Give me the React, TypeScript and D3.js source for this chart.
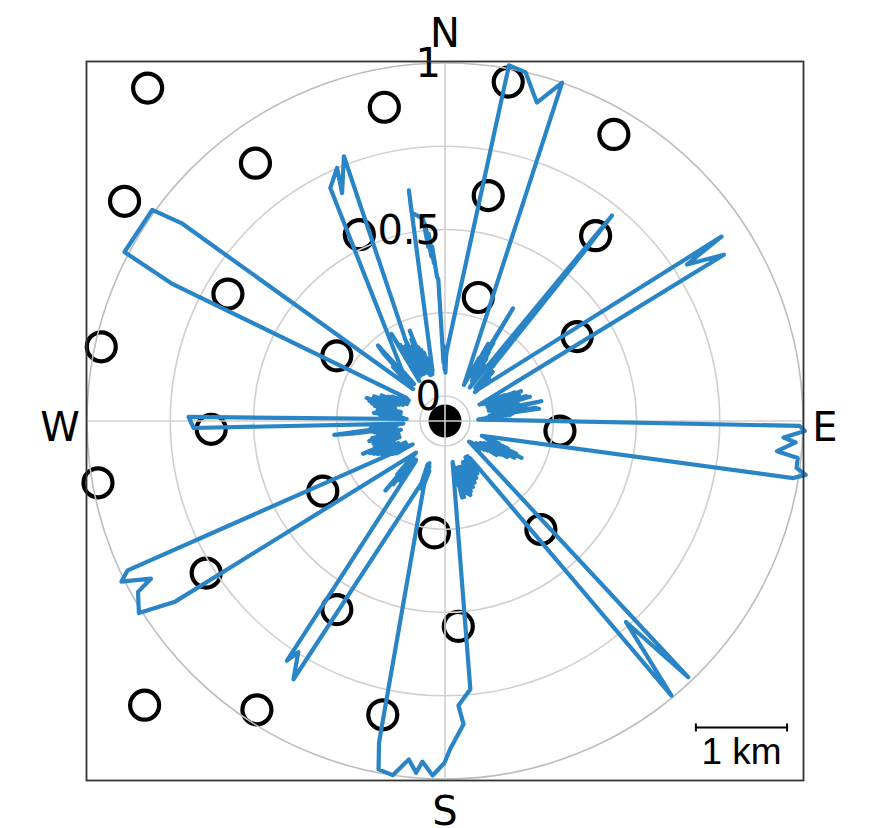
import React from 'react';
import * as d3 from 'd3';

const W = 870;
const H = 828;
const CX = 445;
const CY = 421;
const HOLE = 25;
const OUTER = 358;

const gridValues = [0, 0.25, 0.5, 0.75, 1];
const radialLabels = [0, 0.5, 1];
const compassLabels = ['N', 'E', 'S', 'W'];
const compassAngles = [0, 90, 180, 270];

// station markers in km (east, north) relative to centre
const stationX = [-3.26, -0.665, 0.693, 1.851, -2.078, -3.513, 0.474, -0.939, 1.651, -2.38, 0.365, -3.768, -1.186, 1.449, -2.563, 1.26, -3.804, -1.34, -0.117, 1.051, -2.618, -1.186, 0.146, -3.293, -2.062, -0.682];
const stationY = [3.64, 3.43, 3.705, 3.133, 2.818, 2.402, 2.464, 2.037, 2.026, 1.388, 1.35, 0.811, 0.712, 0.923, -0.091, -0.11, -0.676, -0.767, -1.223, -1.186, -1.662, -2.062, -2.245, -3.107, -3.157, -3.212];

const kmExtent = 3.93;
const scaleBarKm = [2.75, 3.75];
const scaleBarY = -3.35;

// polar profile: [bearing in degrees (clockwise from N), normalised value]
const profile: [number, number][] = [
  [1.5, 0.136],
  [10.2, 1.01], [13.0, 1.0], [16.1, 0.92], [19.1, 1.0],
  [27.8, 0.047],
  [28.5, 0.14], [28.9, 0.08], [29.2, 0.19], [29.6, 0.1], [30, 0.16], [30.4, 0.08], [31.1, 0.32], [31.5, 0.12], [31.8, 0.2], [32.2, 0.09], [32.5, 0.17], [33, 0.1], [33.5, 0.15], [34, 0.07], [34.5, 0.13], [35, 0.08], [35.5, 0.1],
  [36.5, 0.05], [39.1, 0.72], [39.4, 0.6], [42.5, 0.06],
  [43, 0.1], [43.6, 0.06], [44.2, 0.13], [44.8, 0.07], [45.4, 0.11], [46, 0.05],
  [46.4, 0.063], [56.3, 0.923], [57.1, 0.79], [59.2, 0.9], [64.5, 0.04],
  [65.5, 0.09], [66, 0.05], [66.5, 0.12], [67, 0.06], [67.6, 0.15], [68.1, 0.07], [68.6, 0.17], [69.1, 0.08], [69.7, 0.13], [70.2, 0.06], [70.8, 0.16], [71.3, 0.09], [71.9, 0.14], [72.4, 0.06], [73, 0.18], [73.5, 0.1], [74, 0.19], [74.5, 0.08], [75.1, 0.14], [75.6, 0.07], [76.2, 0.15], [76.7, 0.06], [77.3, 0.12], [77.8, 0.08], [78.4, 0.22], [78.9, 0.1], [79.5, 0.17], [80, 0.07], [80.6, 0.15], [81.1, 0.09], [81.7, 0.2], [82.2, 0.11], [82.6, 0.21], [83.1, 0.06], [83.7, 0.13], [84.2, 0.06], [84.8, 0.12], [85.3, 0.05], [85.9, 0.09], [86.5, 0.04],
  [87.5, 0.025], [90.8, 0.99], [91.6, 1.006], [92.8, 0.943], [93.5, 0.98], [95.2, 0.926], [96, 0.99], [97.6, 0.99], [98.5, 1.02], [99.3, 0.985], [112, 0.044],
  [112.6, 0.1], [113.1, 0.06], [113.6, 0.13], [114.1, 0.07], [114.7, 0.16], [115.2, 0.09], [115.7, 0.18], [116.2, 0.08], [116.8, 0.15], [117.3, 0.07], [117.9, 0.16], [118.4, 0.09], [119, 0.12], [119.5, 0.06], [120.1, 0.14], [120.6, 0.07], [121.2, 0.12], [121.7, 0.05], [122.3, 0.1], [122.9, 0.05], [123.5, 0.11], [124.1, 0.05], [124.8, 0.08], [125.5, 0.04], [126.3, 0.07], [127.2, 0.04], [128.2, 0.06], [129, 0.03],
  [130.6, 0.02], [136.5, 0.986], [138, 0.737], [140.5, 0.994], [144.5, 0.097],
  [146, 0.06], [146.8, 0.09], [147.5, 0.05], [148.3, 0.11], [149, 0.06], [149.8, 0.1], [150.5, 0.05], [151.3, 0.12], [152, 0.06], [152.8, 0.1], [153.5, 0.06], [154.3, 0.13], [155, 0.07], [155.7, 0.12], [156.4, 0.06], [157.1, 0.14], [157.8, 0.08], [158.5, 0.13], [159.2, 0.07], [159.9, 0.15], [160.5, 0.09], [161.1, 0.16], [161.7, 0.08], [162.3, 0.155], [162.9, 0.07], [163.5, 0.14], [164.1, 0.07], [164.7, 0.15], [165.3, 0.08], [166, 0.16], [166.7, 0.07], [167.4, 0.16], [168.1, 0.08], [168.8, 0.12], [169.5, 0.05],
  [174.6, 0.734], [177.3, 0.78], [176.5, 0.837], [179.1, 0.91], [180.1, 0.952], [182, 0.99], [183.8, 0.95], [184.7, 0.985], [186.1, 0.947], [188.4, 1.0], [190.8, 0.99], [191.6, 0.91], [201.8, 0.065],
  [200.8, 0.12], [200.2, 0.06], [199.5, 0.14], [198.8, 0.07], [198.2, 0.12],
  [197.4, 0.083], [210.4, 0.824], [212.4, 0.747], [213.4, 0.787], [216, 0.074],
  [216.7, 0.12], [217.3, 0.07], [218, 0.15], [218.6, 0.08], [219.3, 0.17], [219.9, 0.09], [220.6, 0.2], [221.2, 0.08], [221.8, 0.14],
  [222.5, 0.054], [236.2, 0.9], [237.9, 1.01], [240.9, 0.98], [241.8, 0.927], [243.6, 1.01], [244.8, 0.978], [234.2, 0.045],
  [235.5, 0.07], [236.3, 0.1], [237, 0.06], [237.8, 0.11], [238.5, 0.06], [239.3, 0.13], [240, 0.07], [240.8, 0.12], [241.5, 0.06], [242.3, 0.14], [243, 0.08], [243.8, 0.15], [244.5, 0.08], [245.3, 0.16], [246, 0.09], [246.8, 0.17], [247.5, 0.1], [248.2, 0.19], [248.9, 0.09], [249.6, 0.15], [250.3, 0.07], [251, 0.14], [251.7, 0.08], [252.4, 0.15], [253.1, 0.07], [253.8, 0.13], [254.5, 0.07], [255.2, 0.16], [255.9, 0.08], [256.6, 0.15], [257.3, 0.07], [258, 0.13], [258.7, 0.06], [259.4, 0.12], [260.1, 0.07], [260.8, 0.14], [261.5, 0.08], [262.2, 0.2], [262.9, 0.26], [263.5, 0.1], [264.2, 0.15], [264.9, 0.07], [265.6, 0.13], [266.5, 0.05],
  [268.4, 0.68], [270.9, 0.695], [273, 0.04],
  [273.7, 0.09], [274.4, 0.05], [275.1, 0.12], [275.8, 0.06], [276.5, 0.14], [277.2, 0.07], [277.9, 0.12], [278.6, 0.06], [279.3, 0.13], [280, 0.07], [280.7, 0.12], [281.4, 0.06], [282.1, 0.14], [282.8, 0.08], [283.5, 0.15], [284.2, 0.08], [284.9, 0.16], [285.6, 0.09], [286.3, 0.17], [287, 0.08], [287.7, 0.15], [288.4, 0.08], [289.1, 0.15], [289.8, 0.07], [290.5, 0.13], [291.2, 0.06], [291.9, 0.13], [292.6, 0.06], [293.3, 0.11], [294, 0.05], [294.8, 0.1], [295.6, 0.05], [296.5, 0.08], [297.5, 0.05], [298.5, 0.08], [299.6, 0.05],
  [300.9, 0.062], [296.7, 0.845], [297.8, 1.013], [305.8, 1.009], [306.9, 0.915], [315, 0.061],
  [316.2, 0.15], [317, 0.08], [317.7, 0.2], [318.4, 0.228], [319, 0.1], [319.6, 0.14], [320.2, 0.07],
  [316, 0.093], [333.8, 0.705], [336.9, 0.751], [335.7, 0.676], [339.1, 0.776], [327.3, 0.068],
  [328.4, 0.232], [328.9, 0.1], [329.5, 0.19], [330, 0.08], [330.5, 0.18], [331, 0.09], [331.6, 0.16], [332.2, 0.08], [332.8, 0.18], [333.4, 0.09], [334, 0.2], [334.6, 0.1], [335.2, 0.17], [335.8, 0.08], [336.4, 0.16], [337, 0.09], [337.6, 0.19], [338.2, 0.1], [338.7, 0.216], [339.3, 0.08], [340, 0.16], [340.7, 0.08], [341.4, 0.15], [342.1, 0.07], [342.8, 0.14], [343.5, 0.07], [344.2, 0.12], [344.9, 0.07], [345.5, 0.1],
  [346, 0.08], [351.1, 0.626], [350.9, 0.56], [353.8, 0.535], [354.5, 0.45], [354.2, 0.52], [355.3, 0.42], [355, 0.49], [356, 0.4], [355.8, 0.45], [356.8, 0.36], [357.3, 0.35], [358.5, 0.1],
  [359, 0.15], [359.5, 0.08], [0, 0.14], [0.5, 0.07], [1, 0.12],
];

export default function App() {
  const r = d3.scaleLinear().domain([0, 1]).range([HOLE, OUTER]);
  const kx = d3.scaleLinear().domain([-kmExtent, kmExtent]).range([CX - 358.5, CX + 358.5]);
  const ky = d3.scaleLinear().domain([-kmExtent, kmExtent]).range([CY + 359.5, CY - 359.5]);

  const line = d3
    .lineRadial<[number, number]>()
    .angle((d) => (d[0] * Math.PI) / 180)
    .radius((d) => r(d[1]))
    .curve(d3.curveLinearClosed);

  const labelOffset: Record<string, [number, number]> = {
    N: [0, -388],
    E: [380, 6],
    S: [0, 390],
    W: [-385, 6],
  };

  const sbx0 = kx(scaleBarKm[0]);
  const sbx1 = kx(scaleBarKm[1]);
  const sby = ky(scaleBarY);

  return (
    <svg
      width={W}
      height={H}
      style={{ position: 'absolute', left: 0, top: 0, background: '#fff' }}
      fontFamily="DejaVu Sans"
    >
      <rect x={0} y={0} width={W} height={H} fill="#fff" />
      {/* map layer */}
      <g>
        {stationX.map((x, i) => (
          <circle key={i} cx={kx(x)} cy={ky(stationY[i])} r={14.5} fill="none" stroke="#000" strokeWidth={4.2} />
        ))}
        <circle cx={kx(0)} cy={ky(0)} r={16.5} fill="#000" />
      </g>
      {/* polar grid */}
      <g transform={`translate(${CX},${CY})`}>
        {gridValues.map((v) => (
          <circle key={v} r={r(v)} fill="none" stroke={v === 1 ? '#bdbdbd' : '#d0d0d0'} strokeWidth={1.6} />
        ))}
        {compassAngles.map((a) => {
          const t = (a * Math.PI) / 180;
          return (
            <line
              key={a}
              x1={0}
              y1={0}
              x2={OUTER * Math.sin(t)}
              y2={-OUTER * Math.cos(t)}
              stroke="#d0d0d0"
              strokeWidth={1.6}
            />
          );
        })}
        <path d={line(profile) || ''} fill="none" stroke="#2a85c7" strokeWidth={4.2} strokeLinejoin="round" />
        {radialLabels.map((v) => (
          <text key={v} x={-4} y={-r(v)} textAnchor="end" dominantBaseline="central" fontSize={40} fill="#000">
            {String(v)}
          </text>
        ))}
      </g>
      {/* frame */}
      <rect x={CX - 358.5} y={CY - 359.5} width={717} height={719} fill="none" stroke="#333" strokeWidth={1.8} />
      {compassLabels.map((l) => (
        <text
          key={l}
          x={CX + labelOffset[l][0]}
          y={CY + labelOffset[l][1]}
          textAnchor="middle"
          dominantBaseline="central"
          fontSize={40}
          fill="#000"
        >
          {l}
        </text>
      ))}
      {/* scale bar */}
      <g stroke="#000" strokeWidth={2}>
        <line x1={sbx0} y1={sby} x2={sbx1} y2={sby} />
        <line x1={sbx0} y1={sby - 4} x2={sbx0} y2={sby + 4} />
        <line x1={sbx1} y1={sby - 4} x2={sbx1} y2={sby + 4} />
      </g>
      <text
        x={(sbx0 + sbx1) / 2}
        y={sby + 37}
        textAnchor="middle"
        fontFamily="Liberation Sans, Arial"
        fontSize={37}
        fill="#000"
      >
        1 km
      </text>
    </svg>
  );
}
